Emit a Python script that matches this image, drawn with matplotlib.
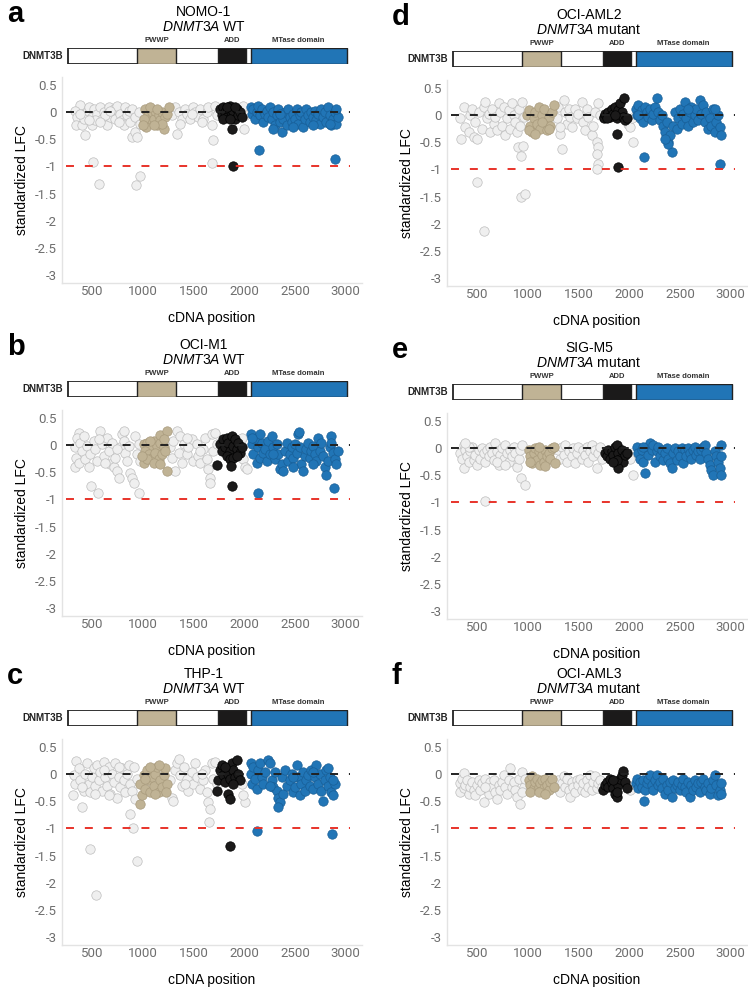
import matplotlib
matplotlib.use("Agg")
import matplotlib.pyplot as plt
from matplotlib.patches import Rectangle

plt.rcParams['font.family'] = ['Liberation Sans', 'DejaVu Sans']
plt.rcParams['axes.unicode_minus'] = False
plt.rcParams['mathtext.fontset'] = 'custom'
plt.rcParams['mathtext.it'] = 'Liberation Sans:italic'
plt.rcParams['mathtext.rm'] = 'Liberation Sans'

# ---- data (cDNA position, standardized LFC) ----
domain_names = ["PWWP", "ADD", "MTase domain"]
domain_start = [943, 1740, 2060]
domain_end = [1327, 2015, 3010]
gene_start, gene_end = 255, 3010

x_ticks = [500, 1000, 1500, 2000, 2500, 3000]
y_ticks = [0.5, 0, -0.5, -1, -1.5, -2, -2.5, -3]
y_ticklabels = ["0.5", "0", "-0.5", "-1", "-1.5", "-2", "-2.5", "-3"]

cell_lines = ["NOMO-1", "OCI-M1", "THP-1", "OCI-AML2", "SIG-M5", "OCI-AML3"]
dnmt3a_status = ["WT", "WT", "WT", "mutant", "mutant", "mutant"]
panel_letters = ["a", "b", "c", "d", "e", "f"]

nomo1_grey = [(375, 0.13), (333, 0.03), (349, -0.09), (339, -0.24), (398, -0.24), (431, -0.42), (448, 0.0), (415, -0.12),
              (464, 0.09), (497, -0.09), (513, 0.06), (497, -0.24), (546, -0.03), (579, 0.09), (595, -0.12), (612, 0.0),
              (644, -0.24), (661, 0.09), (677, -0.09), (710, 0.06), (726, -0.12), (743, 0.11), (776, -0.03), (792, -0.15),
              (808, -0.24), (825, 0.09), (841, -0.06), (858, 0.03), (874, -0.18), (890, -0.45), (923, -0.37), (940, -0.46),
              (890, 0.06), (923, -0.09), (956, 0.0), (972, -0.21), (503, -0.92), (569, -1.33), (966, -1.18), (933, -1.35),
              (382, -0.03), (530, -0.15), (628, -0.06), (759, -0.18), (677, 0.03), (572, -0.18), (470, -0.15),
              (1284, -0.06), (1317, 0.09), (1333, -0.40), (1350, 0.0), (1382, -0.12), (1415, 0.06), (1432, -0.03),
              (1464, -0.12), (1497, 0.09), (1514, 0.0), (1546, -0.09), (1563, 0.06), (1596, -0.12), (1628, 0.0),
              (1645, 0.09), (1678, -0.24), (1687, -0.52), (1710, 0.12), (1727, -0.06), (1678, -0.93), (1366, -0.21),
              (1481, -0.03), (1579, -0.18), (1989, 0.12), (2006, -0.06), (1996, -0.31)]
nomo1_tan = [(1022, 0.06), (1045, -0.06), (1064, -0.18), (1031, -0.28), (1087, 0.0), (1104, -0.12), (1120, 0.03),
             (1136, -0.24), (1153, -0.06), (1169, -0.15), (1186, 0.01), (1202, -0.31), (1218, -0.09), (1235, -0.03),
             (1251, 0.09), (1071, 0.09), (1005, -0.12), (1136, 0.06), (1186, -0.21), (999, -0.24), (1104, -0.24)]
nomo1_black = [(1760, 0.06), (1776, -0.06), (1792, 0.09), (1809, 0.0), (1825, -0.09), (1842, 0.06), (1858, 0.12),
               (1874, -0.03), (1891, 0.03), (1907, -0.12), (1924, 0.06), (1940, -0.06), (1956, 0.0), (1973, -0.09),
               (1792, -0.12), (1874, -0.31), (1884, -0.99), (1825, 0.09), (1858, -0.12), (1907, 0.09)]
nomo1_blue = [(2060, 0.09), (2071, -0.03), (2088, 0.06), (2104, -0.12), (2120, 0.0), (2137, 0.12), (2153, -0.06),
              (2170, 0.06), (2186, -0.18), (2202, -0.03), (2219, 0.03), (2235, -0.09), (2252, 0.09), (2268, -0.12),
              (2284, 0.0), (2301, -0.24), (2317, -0.06), (2334, 0.06), (2350, -0.18), (2366, -0.37), (2383, -0.12),
              (2399, 0.0), (2416, -0.24), (2432, 0.06), (2448, -0.09), (2465, -0.18), (2481, -0.03), (2498, -0.12),
              (2514, 0.06), (2530, -0.21), (2547, -0.06), (2563, 0.0), (2580, -0.28), (2596, -0.12), (2612, 0.06),
              (2629, -0.06), (2645, -0.18), (2661, 0.0), (2678, -0.09), (2694, 0.03), (2711, -0.15), (2727, -0.03),
              (2744, -0.21), (2760, 0.06), (2776, -0.09), (2793, 0.0), (2809, -0.18), (2826, 0.09), (2842, -0.06),
              (2858, -0.24), (2875, -0.12), (2891, 0.0), (2908, -0.21), (2924, -0.09), (2147, -0.70), (2894, -0.87),
              (2284, -0.31), (2481, -0.28), (2350, -0.03), (2678, -0.24), (2842, -0.21), (2908, 0.06)]

ocim1_grey = [(366, 0.23), (349, 0.14), (333, -0.04), (343, -0.23), (333, -0.41), (366, -0.32), (382, 0.05), (398, -0.10),
              (431, -0.26), (448, -0.01), (480, -0.17), (513, 0.08), (530, -0.07), (546, -0.29), (579, 0.27), (595, 0.02),
              (612, -0.20), (644, 0.14), (661, -0.10), (677, -0.35), (694, 0.05), (710, -0.41), (726, -0.23), (743, -0.48),
              (759, -0.61), (776, -0.04), (792, 0.20), (808, 0.08), (825, -0.14), (841, -0.29), (858, -0.01), (874, -0.51),
              (890, -0.60), (907, -0.69), (923, 0.17), (940, -0.17), (956, 0.02), (972, -0.29), (487, -0.75), (552, -0.88),
              (956, -0.89), (808, 0.27), (743, -0.07), (628, -0.32), (562, 0.11), (464, -0.41), (415, 0.17),
              (1268, -0.04), (1284, -0.23), (1300, 0.08), (1317, -0.48), (1333, 0.27), (1350, -0.14), (1366, 0.17),
              (1382, -0.32), (1399, 0.02), (1432, -0.17), (1448, -0.04), (1481, 0.11), (1497, -0.29), (1530, 0.02),
              (1546, -0.20), (1563, -0.32), (1596, -0.07), (1612, 0.14), (1628, -0.26), (1645, -0.44), (1661, -0.60),
              (1661, -0.69), (1678, 0.20), (1694, -0.10), (1710, 0.23), (1727, 0.02), (1563, -0.10), (1432, 0.14),
              (1989, -0.26), (2006, -0.41), (2022, -0.44), (1973, 0.14)]
ocim1_tan = [(1005, 0.02), (1038, 0.05), (1071, -0.04), (1104, 0.08), (1136, -0.01), (1169, 0.05), (1202, -0.04),
             (1022, -0.10), (1054, -0.17), (1087, -0.23), (1120, -0.14), (1153, -0.26), (1186, -0.17), (1218, -0.10),
             (1005, -0.32), (1038, -0.26), (1104, -0.32), (1169, -0.35), (1163, 0.18), (1235, 0.26), (1235, -0.48),
             (989, -0.20), (1202, 0.11), (1071, 0.08)]
ocim1_black = [(1760, 0.02), (1776, -0.10), (1792, 0.11), (1809, -0.04), (1825, 0.14), (1842, 0.05), (1858, -0.10),
               (1874, 0.17), (1891, -0.01), (1907, 0.11), (1924, -0.07), (1940, 0.05), (1956, -0.14), (1973, -0.04),
               (1825, -0.20), (1858, -0.26), (1891, -0.23), (1924, -0.20), (1864, -0.38), (1733, -0.36), (1874, -0.75)]
ocim1_blue = [(2060, 0.20), (2071, 0.02), (2088, -0.17), (2104, 0.11), (2120, -0.32), (2137, -0.04), (2153, -0.23),
              (2170, 0.05), (2186, -0.14), (2202, -0.07), (2219, -0.29), (2235, 0.08), (2252, -0.17), (2268, 0.17),
              (2284, -0.04), (2301, -0.26), (2317, 0.02), (2334, -0.17), (2350, -0.44), (2366, -0.35), (2383, -0.48),
              (2399, -0.10), (2416, 0.05), (2432, -0.29), (2448, -0.17), (2465, -0.04), (2481, -0.23), (2498, 0.02),
              (2514, -0.14), (2530, 0.20), (2547, -0.04), (2563, -0.35), (2580, -0.48), (2596, -0.20), (2612, -0.07),
              (2629, 0.05), (2645, -0.23), (2661, -0.10), (2678, -0.01), (2694, -0.17), (2711, -0.29), (2727, 0.14),
              (2744, -0.10), (2760, 0.05), (2776, -0.20), (2793, -0.41), (2809, -0.54), (2826, -0.29), (2842, -0.04),
              (2858, 0.17), (2875, -0.14), (2891, -0.26), (2908, -0.35), (2924, -0.10), (2137, -0.88), (2881, -0.78),
              (2153, 0.20), (2284, -0.17), (2481, -0.41), (2678, -0.35), (2858, 0.05), (2071, 0.14), (2540, 0.24)]

thp1_grey = [(339, 0.24), (316, -0.02), (333, -0.18), (310, -0.39), (366, 0.11), (382, -0.11), (402, -0.60), (415, -0.30),
             (431, 0.01), (448, 0.20), (464, -0.18), (480, -0.33), (497, -0.05), (513, 0.11), (530, -0.21), (546, 0.17),
             (562, -0.11), (579, 0.04), (595, -0.30), (612, 0.23), (628, -0.05), (644, -0.21), (661, 0.14), (677, -0.36),
             (694, 0.01), (710, -0.14), (726, 0.20), (743, -0.43), (759, -0.05), (776, -0.24), (792, 0.11), (808, -0.11),
             (825, -0.33), (841, 0.01), (858, 0.17), (874, -0.18), (890, -0.30), (907, 0.14), (923, -0.46), (940, -0.08),
             (874, -0.73), (900, -0.99), (474, -1.38), (940, -1.60), (539, -2.22), (398, -0.24), (661, -0.39),
             (759, 0.14), (530, -0.36), (612, 0.08),
             (1268, -0.11), (1284, -0.43), (1300, -0.49), (1317, 0.08), (1333, 0.20), (1350, 0.29), (1366, -0.02),
             (1382, -0.21), (1399, 0.14), (1432, -0.08), (1448, -0.30), (1481, 0.04), (1497, -0.18), (1514, 0.20),
             (1530, -0.05), (1563, -0.27), (1596, -0.11), (1612, 0.08), (1628, -0.33), (1645, -0.52), (1661, -0.64),
             (1655, -0.88), (1678, 0.20), (1694, -0.08), (1710, 0.23), (1727, -0.18), (1579, 0.01), (1415, -0.18),
             (1973, -0.18), (2006, -0.52), (1983, -0.39)]
thp1_tan = [(972, -0.55), (989, -0.39), (972, -0.18), (1005, -0.02), (1022, -0.27), (1038, 0.08), (1054, -0.11),
            (1071, -0.33), (1087, -0.05), (1104, -0.21), (1120, 0.01), (1136, 0.14), (1153, -0.33), (1169, -0.11),
            (1186, -0.24), (1202, -0.02), (1218, 0.11), (1235, -0.18), (1228, -0.33), (1153, 0.17), (1071, 0.14),
            (1120, -0.36), (1022, -0.08)]
thp1_black = [(1743, -0.11), (1760, 0.08), (1776, 0.17), (1792, -0.02), (1809, -0.14), (1825, 0.11), (1842, 0.01),
              (1858, -0.08), (1874, 0.20), (1891, 0.08), (1907, -0.05), (1924, 0.26), (1940, 0.01), (1956, -0.11),
              (1842, -0.36), (1858, -0.46), (1727, -0.30), (1858, -1.33), (1809, 0.14), (1891, -0.18)]
thp1_blue = [(2060, 0.20), (2060, 0.01), (2071, -0.18), (2088, 0.14), (2104, -0.08), (2120, -0.27), (2137, 0.08),
             (2153, 0.20), (2170, -0.05), (2186, -0.18), (2202, 0.04), (2235, 0.26), (2252, 0.20), (2268, -0.11),
             (2284, -0.24), (2301, 0.04), (2317, -0.30), (2334, -0.43), (2350, -0.52), (2334, -0.61), (2366, -0.05),
             (2383, -0.36), (2399, 0.08), (2416, -0.21), (2448, -0.11), (2465, 0.01), (2481, -0.33), (2498, -0.24),
             (2514, 0.17), (2530, -0.05), (2547, -0.39), (2563, -0.18), (2580, 0.04), (2596, -0.30), (2612, -0.11),
             (2629, -0.02), (2645, -0.21), (2661, 0.08), (2678, -0.27), (2694, -0.05), (2711, 0.17), (2727, -0.18),
             (2744, 0.01), (2760, -0.30), (2776, -0.49), (2793, -0.11), (2809, 0.08), (2826, -0.21), (2842, -0.05),
             (2858, -0.33), (2875, -0.39), (2891, -0.18), (2875, -0.11), (2120, -1.04), (2862, -1.10), (2252, -0.21),
             (2481, -0.05), (2678, 0.04), (2826, 0.11)]

ociaml2_grey = [(343, -0.43), (333, -0.06), (366, 0.16), (382, -0.22), (415, -0.31), (431, 0.0), (448, 0.12),
                (464, -0.40), (480, -0.12), (497, -0.43), (513, 0.06), (546, -0.25), (562, 0.16), (579, 0.25),
                (595, -0.06), (612, 0.03), (628, -0.31), (644, 0.12), (661, -0.16), (677, -0.03), (694, -0.28),
                (710, 0.22), (726, 0.06), (743, -0.19), (759, 0.16), (776, -0.37), (792, -0.06), (808, 0.09),
                (825, -0.25), (841, 0.22), (858, 0.0), (874, -0.12), (890, -0.31), (907, 0.12), (923, -0.19),
                (940, 0.25), (956, -0.03), (900, -0.59), (946, -0.57), (930, -0.75), (500, -1.24), (933, -1.50),
                (966, -1.46), (566, -2.14),
                (1284, -0.06), (1300, 0.16), (1317, -0.34), (1333, -0.62), (1350, 0.28), (1366, 0.06), (1382, -0.16),
                (1399, 0.12), (1415, -0.03), (1432, -0.22), (1464, 0.12), (1481, -0.06), (1497, 0.03), (1530, 0.25),
                (1546, -0.12), (1563, -0.28), (1579, 0.12), (1596, -0.03), (1628, -0.37), (1645, -0.19), (1661, 0.06),
                (1678, -0.50), (1687, -0.59), (1694, 0.22), (1678, -0.71), (1694, -0.90), (1678, -0.99), (1710, 0.0),
                (1317, -0.22), (1989, -0.16), (2006, -0.22), (2038, -0.50), (2022, -0.06)]
ociaml2_tan = [(989, 0.0), (1005, 0.09), (1022, -0.19), (1038, -0.31), (1054, -0.06), (1071, 0.06), (1087, -0.16),
               (1104, 0.16), (1120, -0.25), (1136, 0.0), (1153, 0.12), (1169, -0.12), (1186, -0.28), (1202, -0.03),
               (1218, -0.19), (1235, 0.06), (1251, 0.19), (1005, -0.28), (1071, -0.34), (1136, -0.12), (1202, -0.25)]
ociaml2_black = [(1745, -0.03), (1748, -0.06), (1760, 0.03), (1776, 0.0), (1792, 0.06), (1809, -0.03), (1825, 0.12),
                 (1842, 0.03), (1858, 0.16), (1874, -0.06), (1891, 0.09), (1907, 0.22), (1924, 0.06), (1940, -0.03),
                 (1950, 0.31), (1956, -0.09), (1973, -0.06), (1874, -0.34), (1884, -0.96), (1776, -0.06), (1858, 0.0)]
ociaml2_blue = [(2060, 0.12), (2071, 0.0), (2088, 0.19), (2104, -0.06), (2120, 0.09), (2137, -0.12), (2153, 0.16),
                (2170, 0.06), (2186, -0.03), (2202, 0.12), (2219, -0.09), (2235, 0.03), (2252, 0.16), (2268, 0.31),
                (2284, 0.06), (2301, -0.09), (2317, 0.0), (2334, -0.19), (2350, -0.31), (2366, -0.12), (2383, -0.50),
                (2399, -0.37), (2416, -0.68), (2432, -0.19), (2448, 0.06), (2465, -0.25), (2481, -0.06), (2498, 0.12),
                (2514, -0.16), (2530, 0.03), (2547, 0.25), (2563, -0.06), (2580, -0.19), (2596, 0.06), (2612, 0.16),
                (2629, -0.12), (2645, 0.0), (2661, 0.12), (2678, -0.09), (2694, 0.28), (2711, 0.03), (2727, 0.19),
                (2744, -0.12), (2760, 0.06), (2776, -0.25), (2793, -0.06), (2809, -0.19), (2826, 0.12), (2842, -0.31),
                (2858, -0.12), (2875, 0.0), (2891, -0.22), (2908, -0.37), (2147, -0.77), (2891, -0.90), (2383, -0.53),
                (2350, -0.43), (2842, 0.12), (2088, 0.0), (2580, 0.12)]

sigm5_grey = [(333, -0.09), (349, -0.19), (366, 0.06), (366, -0.37), (382, -0.03), (398, -0.15), (415, -0.25),
              (431, -0.06), (448, 0.03), (464, -0.22), (480, -0.12), (497, -0.31), (513, -0.03), (530, -0.19),
              (546, 0.0), (562, -0.09), (579, -0.25), (595, -0.03), (612, -0.15), (628, 0.03), (644, -0.09),
              (661, -0.22), (677, 0.09), (694, -0.06), (710, -0.31), (726, -0.12), (743, 0.0), (759, -0.19),
              (776, 0.06), (792, -0.09), (808, -0.25), (825, -0.03), (841, -0.15), (858, 0.03), (874, -0.09),
              (890, -0.34), (907, -0.19), (923, -0.03), (940, 0.06), (933, -0.54), (966, -0.68), (572, -0.97),
              (694, -0.25), (415, 0.03), (776, -0.31), (375, 0.09),
              (1300, -0.03), (1317, -0.19), (1333, 0.03), (1350, -0.12), (1366, 0.06), (1382, -0.25), (1399, -0.06),
              (1432, -0.15), (1448, 0.0), (1464, -0.28), (1481, -0.09), (1497, 0.03), (1530, -0.19), (1546, -0.03),
              (1563, -0.12), (1579, 0.03), (1596, -0.25), (1612, -0.06), (1628, 0.06), (1645, -0.15), (1661, -0.03),
              (1678, -0.37), (1694, -0.09), (1710, 0.03), (1727, -0.19), (2038, -0.49), (2022, -0.09), (2006, -0.19)]
sigm5_tan = [(1005, -0.03), (1022, -0.15), (1038, -0.28), (1054, -0.09), (1071, 0.0), (1087, -0.22), (1104, -0.06),
             (1120, -0.31), (1136, -0.12), (1153, -0.25), (1169, -0.03), (1186, -0.15), (1202, -0.09), (1218, -0.19),
             (1235, 0.0), (1251, 0.03), (1268, -0.28), (1169, -0.33), (1104, 0.03), (1022, -0.25)]
sigm5_black = [(1760, -0.09), (1776, -0.15), (1792, -0.03), (1809, -0.19), (1825, -0.06), (1842, -0.12), (1858, 0.03),
               (1874, 0.06), (1891, -0.09), (1907, -0.19), (1924, -0.03), (1940, -0.25), (1956, -0.12), (1973, -0.09),
               (1891, -0.37), (1874, -0.22), (1842, -0.25)]
sigm5_blue = [(2071, 0.03), (2088, -0.09), (2104, -0.19), (2120, -0.03), (2137, -0.25), (2153, -0.46), (2170, 0.03),
              (2186, -0.12), (2202, 0.09), (2219, -0.03), (2235, 0.06), (2252, -0.25), (2268, -0.06), (2284, 0.03),
              (2301, -0.15), (2317, -0.03), (2334, -0.22), (2350, -0.09), (2366, 0.0), (2383, -0.19), (2399, -0.28),
              (2416, -0.37), (2432, -0.09), (2448, 0.0), (2465, -0.22), (2481, -0.06), (2498, -0.15), (2514, 0.0),
              (2530, -0.28), (2547, -0.03), (2563, -0.15), (2580, 0.0), (2596, -0.09), (2612, -0.19), (2629, -0.03),
              (2645, 0.03), (2661, -0.12), (2678, -0.06), (2694, -0.19), (2711, -0.03), (2727, 0.03), (2744, 0.06),
              (2760, -0.09), (2776, -0.19), (2793, -0.31), (2809, -0.40), (2826, -0.49), (2842, -0.06), (2858, -0.15),
              (2875, -0.25), (2891, -0.37), (2901, -0.49), (2908, 0.06), (2908, -0.15), (2137, 0.03)]

ociaml3_grey = [(325, -0.17), (333, -0.33), (349, -0.08), (366, 0.02), (366, -0.26), (382, -0.2), (398, -0.11),
                (415, -0.36), (431, -0.23), (448, -0.14), (464, -0.29), (480, -0.39), (497, -0.2), (513, -0.11),
                (530, -0.29), (546, -0.17), (562, -0.51), (579, -0.08), (595, -0.26), (612, -0.36), (628, -0.14),
                (644, -0.23), (661, -0.11), (677, -0.33), (694, -0.45), (710, -0.2), (726, -0.29), (743, -0.14),
                (759, -0.01), (776, -0.23), (792, -0.36), (808, -0.11), (825, 0.11), (841, -0.23), (858, -0.14),
                (874, -0.29), (890, -0.42), (907, -0.08), (923, -0.54), (940, 0.05), (956, -0.23), (972, -0.08),
                (940, -0.33), (579, -0.23),
                (1284, -0.26), (1300, -0.11), (1317, -0.33), (1333, -0.17), (1350, -0.04), (1366, -0.23), (1382, -0.08),
                (1399, -0.29), (1415, -0.42), (1432, -0.14), (1448, -0.23), (1464, -0.33), (1481, -0.11), (1497, -0.2),
                (1514, -0.08), (1530, -0.29), (1546, -0.17), (1563, -0.33), (1579, -0.11), (1596, -0.23), (1612, -0.01),
                (1628, -0.29), (1645, -0.14), (1661, -0.04), (1678, -0.26), (1694, -0.17), (1710, -0.11), (1727, -0.23),
                (1989, -0.2), (2006, -0.29)]
ociaml3_tan = [(1005, -0.11), (1022, -0.2), (1038, -0.04), (1054, -0.26), (1071, -0.14), (1087, -0.08), (1104, -0.23),
               (1120, -0.17), (1136, -0.11), (1153, -0.26), (1169, -0.08), (1186, -0.2), (1202, -0.29), (1218, -0.14),
               (1235, -0.08), (1251, -0.23), (1022, -0.33), (1104, -0.33), (1169, -0.36)]
ociaml3_black = [(1743, -0.29), (1760, -0.2), (1776, -0.14), (1792, -0.23), (1809, -0.08), (1825, -0.17), (1842, -0.26),
                 (1858, -0.36), (1874, -0.42), (1891, -0.2), (1907, -0.08), (1924, -0.01), (1940, 0.06), (1956, -0.14),
                 (1973, -0.26), (1874, -0.33), (1842, -0.11)]
ociaml3_blue = [(2060, -0.17), (2071, -0.08), (2088, -0.26), (2104, -0.14), (2120, -0.23), (2137, -0.11), (2147, -0.5),
                (2153, -0.29), (2170, -0.17), (2186, -0.08), (2202, -0.01), (2219, -0.2), (2235, -0.29), (2252, -0.11),
                (2268, -0.01), (2284, -0.2), (2301, -0.14), (2317, -0.26), (2334, -0.08), (2350, -0.36), (2366, -0.2),
                (2383, -0.29), (2399, -0.14), (2416, -0.42), (2432, -0.11), (2448, -0.26), (2465, -0.2), (2481, -0.14),
                (2498, -0.29), (2514, -0.2), (2530, -0.08), (2547, -0.23), (2563, -0.33), (2580, -0.14), (2596, -0.42),
                (2612, -0.2), (2629, -0.29), (2645, -0.11), (2661, -0.23), (2678, -0.17), (2694, -0.33), (2711, -0.14),
                (2727, -0.08), (2744, -0.23), (2760, -0.29), (2776, -0.17), (2793, -0.36), (2809, -0.26), (2826, -0.11),
                (2842, -0.01), (2858, -0.2), (2875, -0.39), (2891, -0.29), (2908, -0.17), (2908, -0.36)]

panel_points = [
    (nomo1_grey, nomo1_tan, nomo1_black, nomo1_blue),
    (ocim1_grey, ocim1_tan, ocim1_black, ocim1_blue),
    (thp1_grey, thp1_tan, thp1_black, thp1_blue),
    (ociaml2_grey, ociaml2_tan, ociaml2_black, ociaml2_blue),
    (sigm5_grey, sigm5_tan, sigm5_black, sigm5_blue),
    (ociaml3_grey, ociaml3_tan, ociaml3_black, ociaml3_blue),
]

# ---- styling ----
W, H = 748, 989
c_tan = "#C0B395"
c_black = "#1B1A1A"
c_blue = "#2175B6"
point_face = ["#EFEFEF", c_tan, c_black, c_blue]
point_edge = ["#BDBDBD", "#A89A7C", "#000000", "#185E96"]
tick_grey = "#6E6E6E"
spine_grey = "#E3E3E3"


def px_axes(fig, left, top, w, h):
    return fig.add_axes([left / W, 1 - (top + h) / H, w / W, h / H])


fig = plt.figure(figsize=(W / 100, H / 100), dpi=100)

col_left = [62, 447]
row_top = [[77, 410, 739], [80, 413, 739]]
ax_w, ax_h = 300, 206

for i in range(6):
    col, row = i // 3, i % 3
    left = col_left[col]
    top = row_top[col][row]

    ax = px_axes(fig, left, top, ax_w, ax_h)
    for k, pts in enumerate(panel_points[i]):
        ax.scatter([p[0] for p in pts], [p[1] for p in pts], s=46,
                   facecolor=point_face[k], edgecolor=point_edge[k], linewidth=0.5, zorder=2 + k * 0.1)
    ax.hlines(0, 235, 3045, colors="#222222", linestyles=(0, (4.1, 5.6)), linewidth=1.4, zorder=5)
    ax.hlines(-1, 235, 3045, colors="#E8332A", linestyles=(0, (4.1, 5.6)), linewidth=1.4, zorder=5)
    ax.set_xlim(200, 3160)
    ax.set_ylim(-3.15, 0.65)
    ax.set_xticks(x_ticks)
    ax.set_yticks(y_ticks)
    ax.set_yticklabels(y_ticklabels)
    ax.tick_params(length=0, labelsize=9.5, labelcolor=tick_grey)
    ax.tick_params(axis="x", pad=1.5)
    ax.tick_params(axis="y", pad=4)
    for lab in ax.get_xticklabels() + ax.get_yticklabels():
        lab.set_fontfamily("Roboto")
    for s in ["top", "right"]:
        ax.spines[s].set_visible(False)
    for s in ["left", "bottom"]:
        ax.spines[s].set_color(spine_grey)
        ax.spines[s].set_linewidth(1.0)
    ax.set_xlabel("cDNA position", fontsize=10, labelpad=9)
    ax.set_ylabel("standardized LFC", fontsize=10, labelpad=4)

    # domain bar
    bar = px_axes(fig, left, top - 29, ax_w, 16)
    bar.set_xlim(200, 3160)
    bar.set_ylim(0, 1)
    bar.axis("off")
    bar.add_patch(Rectangle((gene_start, 0), gene_end - gene_start, 1,
                            facecolor="white", edgecolor="#222222", linewidth=1.3))
    for name, s0, s1, c in zip(domain_names, domain_start, domain_end, [c_tan, c_black, c_blue]):
        bar.add_patch(Rectangle((s0, 0), s1 - s0, 1, facecolor=c, edgecolor="#222222", linewidth=1.0))
        bar.text((s0 + s1) / 2, 1.25, name, ha="center", va="bottom", fontsize=5.5,
                 fontweight="bold", color="#333333")
    bar.text(gene_start - 50, 0.5, "DNMT3B", ha="right", va="center", fontsize=7,
             fontweight="bold", color="#222222")

    # titles
    cx = (left + ax_w / 2 - 8) / W
    fig.text(cx, 1 - (top - 65) / H, cell_lines[i], ha="center", va="center", fontsize=10)
    fig.text(cx, 1 - (top - 50) / H, r"$\mathit{DNMT3A}$ " + dnmt3a_status[i],
             ha="center", va="center", fontsize=10)
    fig.text((left - 55) / W, 1 - (top - 63) / H, panel_letters[i], ha="left", va="center",
             fontsize=21, fontweight="bold")

fig.savefig("out.png", dpi=100)
